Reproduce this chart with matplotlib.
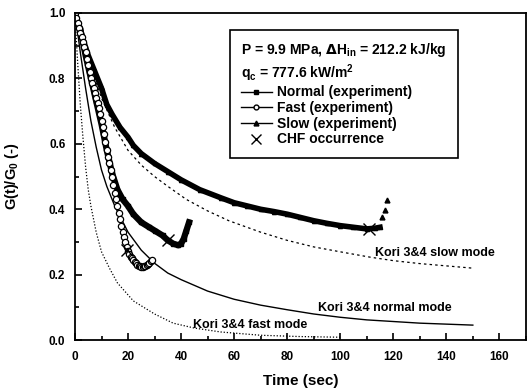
import matplotlib
matplotlib.use("Agg")
import matplotlib.pyplot as plt
from matplotlib.lines import Line2D
from matplotlib.ticker import MultipleLocator

plt.rcParams["font.family"] = ["Liberation Sans", "DejaVu Sans"]
plt.rcParams["font.weight"] = "bold"

# experiment: slow mode (filled triangles, dense)
slow_t = [0, 1, 2, 3, 5, 7, 10, 12, 14, 17, 20, 22, 25, 30, 35, 40, 47, 55, 60, 65, 70,
          75, 80, 85, 90, 95, 100, 105, 110, 113, 115]
slow_g = [1.0, 0.97, 0.95, 0.92, 0.87, 0.83, 0.77, 0.72, 0.69, 0.65, 0.62, 0.595, 0.57,
          0.54, 0.515, 0.49, 0.46, 0.435, 0.42, 0.41, 0.40, 0.393, 0.385, 0.375, 0.365,
          0.357, 0.35, 0.345, 0.34, 0.342, 0.345]
slow_tail_t = [115.8, 116.8, 117.8]
slow_tail_g = [0.375, 0.397, 0.427]

# experiment: normal mode (filled squares, dense)
normal_t = [0, 1, 2, 4, 6, 8, 10, 12, 14, 16, 18, 20, 22, 25, 28, 30, 33, 35, 37, 39,
            40, 41, 42, 43]
normal_g = [1.0, 0.97, 0.95, 0.87, 0.80, 0.73, 0.66, 0.58, 0.51, 0.46, 0.43, 0.41, 0.385,
            0.36, 0.345, 0.335, 0.32, 0.305, 0.295, 0.29, 0.295, 0.31, 0.335, 0.36]

# experiment: fast mode (open circles)
fast_t = [0, 0.5, 1, 1.5, 2, 2.5, 3, 3.5, 4, 4.5, 5, 5.5, 6, 6.5, 7, 7.5, 8, 8.5, 9,
          9.5, 10, 10.5, 11, 11.5, 12, 12.5, 13, 13.5, 14, 14.5, 15, 15.5, 16, 16.5,
          17, 17.5, 18, 18.5, 19, 19.5, 20, 20.5, 21, 21.5, 22, 22.5, 23, 23.5, 24,
          24.5, 25, 25.5, 26, 26.5, 27, 27.5, 28, 28.5, 29]
fast_g = [1.0, 0.985, 0.97, 0.955, 0.94, 0.925, 0.91, 0.895, 0.88, 0.86, 0.84, 0.82,
          0.80, 0.785, 0.77, 0.755, 0.74, 0.725, 0.71, 0.69, 0.67, 0.65, 0.63, 0.605,
          0.58, 0.56, 0.54, 0.52, 0.50, 0.475, 0.45, 0.43, 0.41, 0.39, 0.37, 0.35,
          0.33, 0.315, 0.30, 0.285, 0.272, 0.262, 0.255, 0.25, 0.245, 0.24, 0.235,
          0.231, 0.228, 0.226, 0.225, 0.225, 0.226, 0.228, 0.23, 0.233, 0.237, 0.241,
          0.245]

# CHF occurrence points
chf_t = [35, 19.8, 111]
chf_g = [0.305, 0.275, 0.34]

# Kori 3&4 predictions
kori_slow_t = [0, 2, 5, 7, 10, 15, 20, 25, 30, 35, 42, 50, 58, 70, 80, 90, 100, 111,
               120, 130, 140, 150]
kori_slow_g = [1.0, 0.94, 0.86, 0.81, 0.74, 0.65, 0.58, 0.535, 0.50, 0.47, 0.43, 0.395,
               0.365, 0.33, 0.305, 0.285, 0.27, 0.254, 0.243, 0.234, 0.227, 0.22]
kori_normal_t = [0, 1, 2, 4, 6, 8, 10, 12, 15, 20, 25, 30, 35, 40, 50, 60, 70, 80, 90,
                 100, 110, 120, 130, 140, 150]
kori_normal_g = [1.0, 0.94, 0.88, 0.77, 0.67, 0.59, 0.52, 0.47, 0.41, 0.33, 0.275, 0.235,
                 0.205, 0.185, 0.15, 0.125, 0.107, 0.093, 0.08, 0.07, 0.062, 0.057,
                 0.052, 0.049, 0.046]
kori_fast_t = [0, 0.5, 1, 2, 3, 4, 5, 6, 8, 10, 13, 16, 22, 30, 37, 45, 55, 70, 85, 100]
kori_fast_g = [1.0, 0.92, 0.85, 0.72, 0.62, 0.53, 0.46, 0.41, 0.33, 0.27, 0.22, 0.175,
               0.12, 0.08, 0.052, 0.037, 0.025, 0.015, 0.011, 0.009]

fig = plt.figure(figsize=(5.28, 3.91), dpi=100)
ax = fig.add_axes([0.142, 0.130, 0.854, 0.837])

ax.plot(kori_slow_t, kori_slow_g, color="k", lw=0.9, ls=(0, (2, 2.5)))
ax.plot(kori_normal_t, kori_normal_g, color="k", lw=1.0)
ax.plot(kori_fast_t, kori_fast_g, color="k", lw=0.9, ls=(0, (1, 1.5)))

ax.plot(slow_t, slow_g, color="k", lw=4, marker="^", ms=3)
ax.plot(slow_tail_t, slow_tail_g, ls="none", color="k", marker="^", ms=3.5)
ax.plot(normal_t, normal_g, color="k", lw=4.5, marker="s", ms=2.5)
ax.plot(fast_t, fast_g, ls="none", marker="o", ms=4.5, mfc="white", mec="k", mew=0.9)
ax.plot(chf_t, chf_g, ls="none", marker="x", ms=9, mew=1.0, color="k")

ax.text(113.2, 0.266, "Kori 3&4 slow mode", fontsize=9, va="center")
ax.text(91.7, 0.098, "Kori 3&4 normal mode", fontsize=9, va="center")
ax.text(44.5, 0.046, "Kori 3&4 fast mode", fontsize=9, va="center")

ax.set_xlim(0, 170)
ax.set_ylim(0, 1.0)
ax.xaxis.set_major_locator(MultipleLocator(20))
ax.xaxis.set_minor_locator(MultipleLocator(10))
ax.yaxis.set_major_locator(MultipleLocator(0.2))
ax.yaxis.set_minor_locator(MultipleLocator(0.1))
ax.set_xticks(range(0, 161, 20))
ax.yaxis.set_major_formatter(plt.FormatStrFormatter("%.1f"))
ax.tick_params(which="both", direction="in", labelsize=8.5, width=1.2)
ax.tick_params(which="major", length=5)
ax.tick_params(which="minor", length=3)
ax.tick_params(axis="x", pad=8)
ax.tick_params(axis="y", pad=7)
for s in ax.spines.values():
    s.set_linewidth(1.3)

ax.set_xlabel("Time (sec)", fontsize=11, fontweight="bold", labelpad=8)
ax.set_ylabel("G(t)/G$_\\mathregular{0}$ (-)", fontsize=10.5, fontweight="bold",
              labelpad=20)

handles = [
    Line2D([], [], color="k", lw=1, marker="s", ms=3),
    Line2D([], [], color="k", lw=1, marker="o", ms=3.5, mfc="white"),
    Line2D([], [], color="k", lw=1, marker="^", ms=3.5),
    Line2D([], [], ls="none", color="k", marker="x", ms=7, mew=1),
]
labels = ["Normal (experiment)", "Fast (experiment)", "Slow (experiment)", "CHF occurrence"]
title = ("P = 9.9 MPa, $\\Delta$H$_\\mathregular{in}$ = 212.2 kJ/kg\n"
         "q$_\\mathregular{c}$ = 777.6 kW/m$^\\mathregular{2}$")
leg = ax.legend(handles, labels, loc="upper left", bbox_to_anchor=(0.344, 0.948),
                borderaxespad=0, fontsize=10, title=title, title_fontsize=10,
                alignment="left", fancybox=False, edgecolor="k", framealpha=1,
                handlelength=2.2, handletextpad=0.4, labelspacing=0.12,
                borderpad=0.8)
leg.get_frame().set_linewidth(1.2)

fig.savefig("out.png", dpi=100)
